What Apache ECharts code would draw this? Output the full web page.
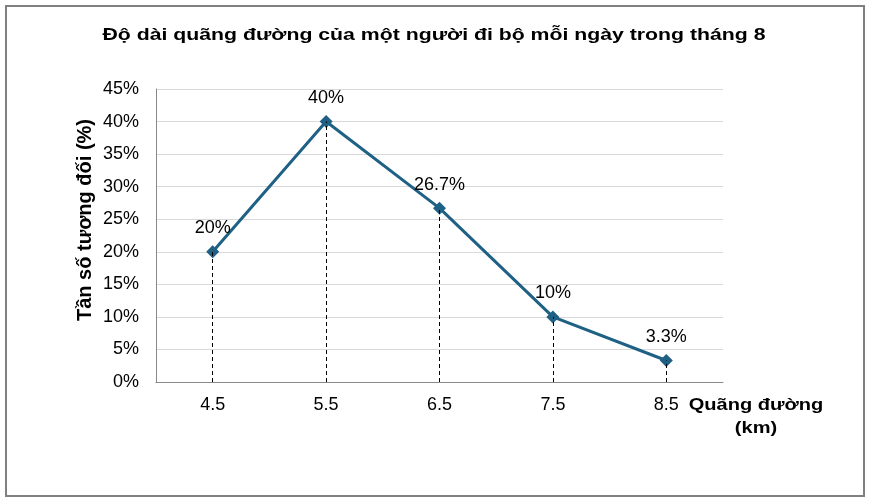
<!DOCTYPE html>
<html>
<head>
<meta charset="utf-8">
<script src="https://cdn.jsdelivr.net/npm/echarts@6/dist/echarts.min.js"></script>
<style>html,body{margin:0;padding:0;background:#fff}#c{width:870px;height:502px}</style>
</head>
<body>
<div id="c"></div>
<script>
const categories = ['4.5', '5.5', '6.5', '7.5', '8.5'];
const values = [20, 40, 26.7, 10, 3.3];
const valueLabels = ['20%', '40%', '26.7%', '10%', '3.3%'];
const titleText = 'Độ dài quãng đường của một người đi bộ mỗi ngày trong tháng 8';
const yName = 'Tần số tương đối (%)';
const xName = 'Quãng đường\n(km)';

const chart = echarts.init(document.getElementById('c'), null, {renderer: 'canvas'});
const font = 'Liberation Sans, Arial, sans-serif';
chart.setOption({
  animation: false,
  backgroundColor: '#fff',
  grid: {left: 156, right: 147, top: 89, bottom: 120, containLabel: false},
  xAxis: {
    type: 'category', data: categories, boundaryGap: true,
    axisLine: {lineStyle: {color: '#888', width: 1}},
    axisTick: {show: false},
    axisLabel: {fontFamily: font, fontSize: 18, color: '#000', margin: 14},
    splitLine: {show: false}
  },
  yAxis: {
    type: 'value', min: 0, max: 45, interval: 5,
    axisLine: {show: true, lineStyle: {color: '#888'}},
    axisTick: {show: false},
    axisLabel: {fontFamily: font, fontSize: 18, color: '#000', margin: 17, formatter: v => v + '%'},
    splitLine: {lineStyle: {color: '#d9d9d9'}}
  },
  series: [{
    type: 'line', data: values,
    symbol: 'diamond', symbolSize: 13,
    lineStyle: {color: '#1f6085', width: 3},
    itemStyle: {color: '#1f6085'},
    label: {
      show: true, position: 'top', distance: 8,
      fontFamily: font, fontSize: 18, color: '#000',
      formatter: p => valueLabels[p.dataIndex]
    },
    markLine: {
      silent: true, symbol: 'none', label: {show: false},
      lineStyle: {type: [4, 3], color: '#000', width: 1},
      data: values.map((v, i) => [{coord: [i, 0]}, {coord: [i, v]}])
    },
    z: 3
  }],
  graphic: [
    {type: 'rect', shape: {x: 6, y: 6, width: 858, height: 490},
     style: {fill: 'none', stroke: '#808080', lineWidth: 2}},
    {type: 'text', x: 434, y: 35, scaleX: 1.25,
     style: {text: titleText, fontFamily: font, fontSize: 17, fontWeight: 'bold', fill: '#000',
             textAlign: 'center', textVerticalAlign: 'middle'}},
    {type: 'text', x: 85, y: 220, rotation: Math.PI / 2,
     style: {text: yName, fontFamily: font, fontSize: 20, fontWeight: 'bold', fill: '#000',
             textAlign: 'center', textVerticalAlign: 'middle'}},
    {type: 'text', x: 756, y: 417, scaleX: 1.18,
     style: {text: xName, fontFamily: font, fontSize: 17, fontWeight: 'bold', fill: '#000',
             textAlign: 'center', textVerticalAlign: 'middle', lineHeight: 23}}
  ]
});
</script>
</body>
</html>
